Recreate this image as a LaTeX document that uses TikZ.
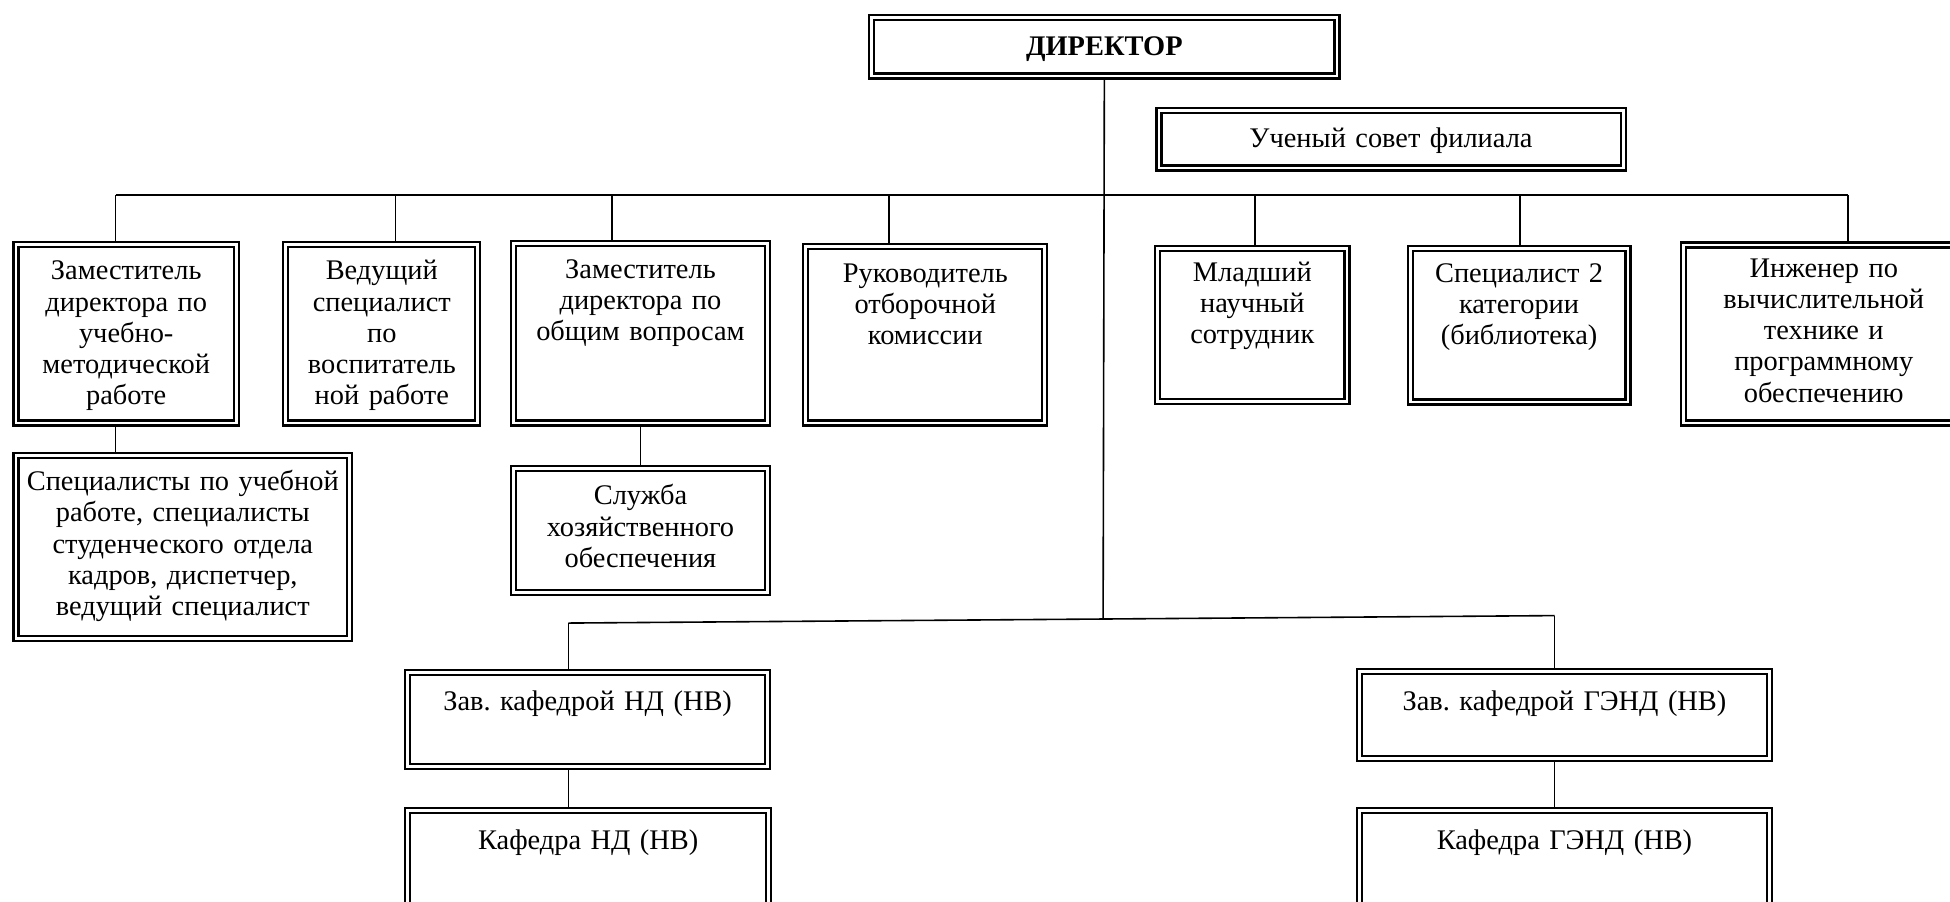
\documentclass[tikz,border=0pt]{standalone}
\usepackage{fontspec}
\setmainfont{Liberation Serif}
\usetikzlibrary{backgrounds}
\frenchspacing
\begin{document}
\begin{tikzpicture}[x=0.6218pt, y=-0.6218pt,
        unit/.style={draw, double, line width=1.1pt, double distance=1.4pt, inner sep=0pt, align=center, font=\fontsize{14.2}{15.6}\selectfont},
        link/.style={line width=0.8pt}]
        \useasboundingbox (0,0) rectangle (1568,725);
        \node[unit, text width=232.7pt, text height=19.3pt, text depth=10pt, font=\fontsize{14.2}{15.6}\selectfont\bfseries] (dir) at (888,37.5) {ДИРЕКТОР};
        \node[unit, text width=232.1pt, text height=18.7pt, text depth=10pt] (sovet) at (1118.5,112) {Ученый совет филиала};
        \node[unit, text width=110.2pt, text height=17.5pt, text depth=71.6pt] (zam1) at (101.5,268.5) {Заместитель\\директора по\\учебно-\\методической\\работе};
        \node[unit, text width=95.9pt, text height=17.5pt, text depth=71.6pt] (ved) at (307,268.5) {Ведущий\\специалист\\по\\воспитатель\\ной работе};
        \node[unit, text width=127pt, text height=17.5pt, text depth=72.2pt] (zam2) at (515,268) {Заместитель\\директора по\\общим вопросам};
        \node[unit, text width=119.5pt, text height=18.1pt, text depth=70.3pt] (ruk) at (744,269) {Руководитель\\отборочной\\комиссии};
        \node[unit, text width=94.6pt, text height=16.2pt, text depth=60.4pt] (mlad) at (1007,261.5) {Младший\\научный\\сотрудник};
        \node[unit, text width=108.9pt, text height=16.9pt, text depth=59.8pt] (spec2) at (1221.5,261.5) {Специалист 2\\категории\\(библиотека)};
        \node[unit, text width=140pt, text height=16.2pt, text depth=72.8pt] (inzh) at (1466.5,268.5) {Инженер по\\вычислительной\\технике и\\программному\\обеспечению};
        \node[unit, text width=166.8pt, text height=17.5pt, text depth=74.1pt] (spec) at (147,440) {Специалисты по учебной\\работе, специалисты\\студенческого отдела\\кадров, диспетчер,\\ведущий специалист};
        \node[unit, text width=127pt, text height=18.1pt, text depth=43.6pt] (sluzh) at (515,426.5) {Служба\\хозяйственного\\обеспечения};
        \node[unit, text width=179.8pt, text height=18.7pt, text depth=28pt] (zavnd) at (472.5,578.5) {Зав. кафедрой НД (НВ)};
        \node[unit, text width=180.4pt, text height=19.3pt, text depth=30.5pt] (kafnd) at (473,692) {Кафедра НД (НВ)};
        \node[unit, text width=205.3pt, text height=19.3pt, text depth=24.3pt] (zavg) at (1258,575) {Зав. кафедрой ГЭНД (НВ)};
        \node[unit, text width=205.3pt, text height=19.3pt, text depth=30.5pt] (kafg) at (1258,692) {Кафедра ГЭНД (НВ)};
        \coordinate (t1) at (93,157);
        \coordinate (t2) at (318,157);
        \coordinate (t3) at (492,157);
        \coordinate (t4) at (715,157);
        \coordinate (t5) at (1009,157);
        \coordinate (t6) at (1222,157);
        \coordinate (t7) at (1486,157);
        \coordinate (ll) at (457,501);
        \coordinate (lm) at (887,497.7);
        \coordinate (lr) at (1250,495);
        \begin{pgfonlayer}{background}
        \draw[link] (dir.south) -- (lm);
        \draw[link] (t1) -- (t7);
        \draw[link] (t1) -- (t1 |- zam1.north);
        \draw[link] (t2) -- (t2 |- ved.north);
        \draw[link] (t3) -- (t3 |- zam2.north);
        \draw[link] (t4) -- (t4 |- ruk.north);
        \draw[link] (t5) -- (t5 |- mlad.north);
        \draw[link] (t6) -- (t6 |- spec2.north);
        \draw[link] (t7) -- (t7 |- inzh.north);
        \draw[link] (t1 |- zam1.south) -- (t1 |- spec.north);
        \draw[link] (zam2.south) -- (sluzh.north);
        \draw[link] (ll) -- (lr);
        \draw[link] (ll) -- (ll |- zavnd.north);
        \draw[link] (lr) -- (lr |- zavg.north);
        \draw[link] (ll |- zavnd.south) -- (ll |- kafnd.north);
        \draw[link] (lr |- zavg.south) -- (lr |- kafg.north);
        \end{pgfonlayer}
    \end{tikzpicture}
\end{document}
